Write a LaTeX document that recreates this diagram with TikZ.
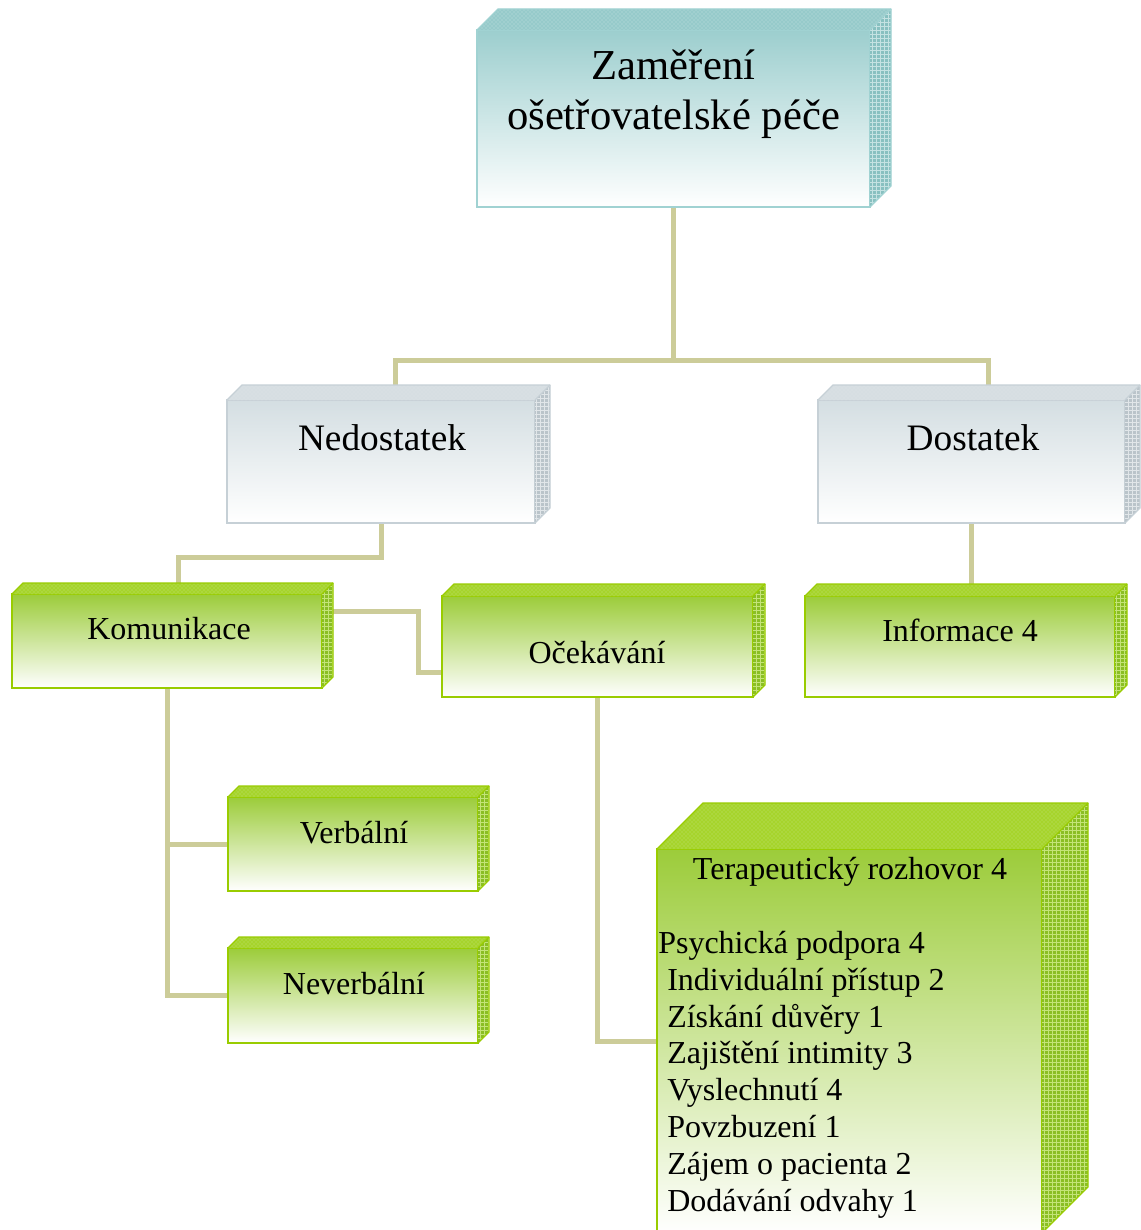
\documentclass[tikz,border=0pt]{standalone}
\usepackage{fontspec}
\setmainfont{Liberation Serif}
\usetikzlibrary{calc,fit,patterns}
\pgfdeclarelayer{bg}
\pgfsetlayers{bg,main}

\definecolor{conn}{RGB}{204,204,153}
\definecolor{gfront}{RGB}{156,204,58}
\definecolor{gborder}{RGB}{153,204,0}
\definecolor{gtop}{RGB}{166,212,44}
\definecolor{gside}{RGB}{138,190,36}
\definecolor{gpat}{RGB}{196,228,120}
\definecolor{tfront}{RGB}{156,206,206}
\definecolor{tborder}{RGB}{160,210,210}
\definecolor{ttop}{RGB}{150,202,202}
\definecolor{tside}{RGB}{136,192,192}
\definecolor{tpat}{RGB}{196,226,226}
\definecolor{sfront}{RGB}{212,222,226}
\definecolor{sborder}{RGB}{198,208,214}
\definecolor{stop}{RGB}{214,222,226}
\definecolor{sside}{RGB}{186,196,202}
\definecolor{spat}{RGB}{225,230,233}

\newcommand\cubeparts[6]{%
  \fill[#3] (#1.north west) -- ++(#2,-#2) -- ($(#1.north east)+(#2,-#2)$) -- (#1.north east) -- cycle;
  \fill[pattern=crosshatch dots, pattern color=#5] (#1.north west) -- ++(#2,-#2) -- ($(#1.north east)+(#2,-#2)$) -- (#1.north east) -- cycle;
  \fill[#4] (#1.north east) -- ++(#2,-#2) -- ($(#1.south east)+(#2,-#2)$) -- (#1.south east) -- cycle;
  \fill[pattern=grid, pattern color=#5] (#1.north east) -- ++(#2,-#2) -- ($(#1.south east)+(#2,-#2)$) -- (#1.south east) -- cycle;
  \draw[#6, line width=1pt, line join=round] (#1.north west) -- ++(#2,-#2) -- ($(#1.north east)+(#2,-#2)$) -- ($(#1.south east)+(#2,-#2)$) -- (#1.south east);
  \draw[#6, line width=1pt] (#1.north east) -- ++(#2,-#2);
}

\begin{document}
\begin{tikzpicture}[x=0.75pt,y=-0.75pt,
  face/.style={inner sep=0pt, outer sep=0pt, line width=1.5pt},
  gface/.style={face, draw=gborder, top color=gfront, middle color=gfront!45!white, bottom color=white},
  tface/.style={face, draw=tborder, top color=tfront, middle color=tfront!45!white, bottom color=white},
  sface/.style={face, draw=sborder, top color=sfront, middle color=sfront!55!white, bottom color=white},
  conn/.style={draw=conn, line width=3.75pt},
  big/.style={font=\fontsize{32}{38}\selectfont, inner sep=0pt, anchor=base},
  mid/.style={font=\fontsize{28}{33}\selectfont, inner sep=0pt, anchor=base},
  small/.style={font=\fontsize{24}{28}\selectfont, inner sep=0pt, anchor=base},
  item/.style={font=\fontsize{24}{28}\selectfont, inner sep=0pt, anchor=base west}]
\useasboundingbox (0,0) rectangle (1140,1230);
\begin{pgfonlayer}{bg}
\fill[white] (0,0) rectangle (1140,1230);
\end{pgfonlayer}

% front faces
\node[tface, fit={(477,30)(870,207)}] (top) {};
\node[sface, fit={(227,400)(535,523)}] (nedo) {};
\node[sface, fit={(818,400)(1125,523)}] (dos) {};
\node[gface, fit={(12,594)(322,688)}] (kom) {};
\node[gface, fit={(442,596)(753,697)}] (oce) {};
\node[gface, fit={(805,596)(1115,697)}] (inf) {};
\node[gface, fit={(228,797)(478,891)}] (verb) {};
\node[gface, fit={(228,948)(478,1043)}] (nev) {};
\node[face, draw=gborder, top color=gfront, middle color=gfront!30!white, bottom color=white, fit={(657,849)(1042,1233)}] (ter) {};

% 3D parts
\cubeparts{top}{21}{ttop}{tside}{tpat}{tborder}
\cubeparts{nedo}{15}{stop}{sside}{spat}{sborder}
\cubeparts{dos}{15}{stop}{sside}{spat}{sborder}
\cubeparts{kom}{11}{gtop}{gside}{gpat}{gborder}
\cubeparts{oce}{12}{gtop}{gside}{gpat}{gborder}
\cubeparts{inf}{12}{gtop}{gside}{gpat}{gborder}
\cubeparts{verb}{11}{gtop}{gside}{gpat}{gborder}
\cubeparts{nev}{11}{gtop}{gside}{gpat}{gborder}
\cubeparts{ter}{46}{gtop}{gside}{gpat}{gborder}

% connectors
\coordinate (j1) at (673.5,360);
\coordinate (nedin) at (395,392);
\coordinate (dosin) at (988,392);
\coordinate (komin) at (178,592);
\coordinate (komr) at (328,611);
\coordinate (j3) at (418,672);
\coordinate (ocel) at (446,672);
\begin{pgfonlayer}{bg}
\draw[conn] (top.south) -- (j1);
\draw[conn] (nedin) |- (j1) -| (dosin);
\draw[conn] (nedo.south) -- ++(0,34) -| (komin);
\draw[conn] (komr) -| (j3) -- (ocel);
\draw[conn] (kom.south) |- (verb.west);
\draw[conn] (kom.south) |- (nev.west);
\draw[conn] (oce.south) |- (ter.west);
\draw[conn] (dos.south) -- (dos.south |- inf.north);
\end{pgfonlayer}

% texts
\node[big] (t1) at (673.5,80) {Zaměření};
\node[big] (t2) at (673.5,130) {ošetřovatelské péče};
\node[mid] (tn) at (382,450) {Nedostatek};
\node[mid] (td) at (973,450) {Dostatek};
\node[small] (tk) at (169,639) {Komunikace};
\node[small] (to) at (597,663) {Očekávání};
\node[small] (ti) at (960,641) {Informace 4};
\node[small] (tv) at (354,843) {Verbální};
\node[small] (tnv) at (354,994) {Neverbální};
\node[small] (tt) at (850,879) {Terapeutický rozhovor 4};
\node[item] (l1) at (658,953) {Psychická podpora 4};
\node[item] (l2) at (667,990) {Individuální přístup 2};
\node[item] (l3) at (667,1027) {Získání důvěry 1};
\node[item] (l4) at (667,1063) {Zajištění intimity 3};
\node[item] (l5) at (667,1100) {Vyslechnutí 4};
\node[item] (l6) at (667,1137) {Povzbuzení 1};
\node[item] (l7) at (667,1174) {Zájem o pacienta 2};
\node[item] (l8) at (667,1211) {Dodávání odvahy 1};
\end{tikzpicture}
\end{document}
